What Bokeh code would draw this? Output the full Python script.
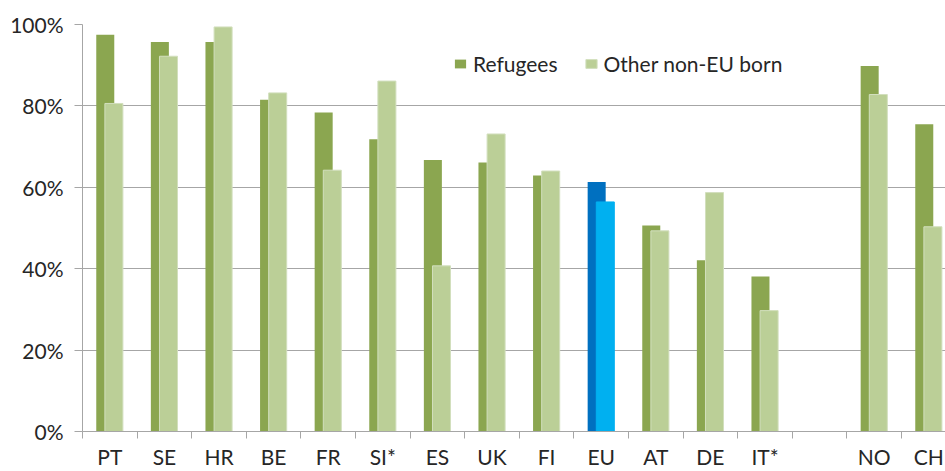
import numpy as np
from bokeh.plotting import figure
from bokeh.models import (ColumnDataSource, FixedTicker, PrintfTickFormatter,
                          Legend, LegendItem, Range1d)
from bokeh.embed import file_html
from bokeh.resources import INLINE

categories = ["PT", "SE", "HR", "BE", "FR", "SI*", "ES", "UK", "FI", "EU",
              "AT", "DE", "IT*", "", "NO", "CH"]
refugees = [97.5, 95.7, 95.7, 81.5, 78.4, 71.8, 66.7, 66.1, 62.9, 61.3,
            50.6, 42.1, 38.1, None, 89.8, 75.5]
other_non_eu = [80.6, 92.2, 99.4, 83.2, 64.2, 86.1, 40.7, 73.1, 64.0, 56.4,
                49.3, 58.7, 29.7, None, 82.8, 50.3]
y_ticks = [0, 20, 40, 60, 80, 100]

DARK_GREEN = "#8BA650"
LIGHT_GREEN = "#BBCF97"
DARK_BLUE = "#0070C0"
LIGHT_BLUE = "#00B0F0"
FONT = "Lato"

idx = np.arange(len(categories), dtype=float)
ref_vals = np.array([np.nan if v is None else v for v in refugees])
oth_vals = np.array([np.nan if v is None else v for v in other_non_eu])

src_ref = ColumnDataSource(dict(
    x=idx - 0.083, top=ref_vals,
    color=[DARK_BLUE if c == "EU" else DARK_GREEN for c in categories]))
src_oth = ColumnDataSource(dict(
    x=idx + 0.075, top=oth_vals,
    color=[LIGHT_BLUE if c == "EU" else LIGHT_GREEN for c in categories],
    line=[LIGHT_BLUE if c == "EU" else "#D2DFBD" for c in categories]))

W, H = 945, 471
LEFT, TOP, BOTTOM = 82, 24, 39
px_per_cat = 54.6
x_end = -0.5 + (W - LEFT) / px_per_cat

p = figure(width=W, height=H, output_backend="svg", toolbar_location=None,
           x_range=Range1d(-0.5, x_end), y_range=Range1d(0, 100))
p.min_border_left = LEFT
p.min_border_top = TOP
p.min_border_bottom = BOTTOM
p.min_border_right = 0
p.outline_line_color = None
p.background_fill_color = "white"
p.border_fill_color = "white"

r1 = p.vbar(x="x", top="top", bottom=0, width=0.33, source=src_ref,
            fill_color="color", line_color=None)
r2 = p.vbar(x="x", top="top", bottom=0, width=0.33, source=src_oth,
            fill_color="color", line_color="line", line_width=1)

# x axis
p.xaxis.ticker = FixedTicker(ticks=list(range(len(categories))),
                             minor_ticks=[i - 0.5 for i in range(len(categories) + 1)])
p.xaxis.major_label_overrides = {i: c for i, c in enumerate(categories)}
p.xaxis.major_tick_line_color = None
p.xaxis.minor_tick_line_color = "#A6A6A6"
p.xaxis.minor_tick_out = 7
p.xaxis.minor_tick_in = 0
p.xaxis.axis_line_color = "#A6A6A6"
p.xaxis.major_label_text_font = FONT
p.xaxis.major_label_text_font_size = "21px"
p.xaxis.major_label_text_color = "#262626"
p.xaxis.major_label_standoff = 5
p.xgrid.visible = False

# y axis
p.yaxis.ticker = FixedTicker(ticks=y_ticks)
p.yaxis.formatter = PrintfTickFormatter(format="%d%%")
p.yaxis.minor_tick_line_color = None
p.yaxis.major_tick_line_color = "#A6A6A6"
p.yaxis.major_tick_out = 8
p.yaxis.major_tick_in = 0
p.yaxis.axis_line_color = "#A6A6A6"
p.yaxis.major_label_text_font = FONT
p.yaxis.major_label_text_font_size = "21px"
p.yaxis.major_label_text_color = "#262626"
p.yaxis.major_label_standoff = 11
p.ygrid.grid_line_color = "#A6A6A6"
p.ygrid.grid_line_width = 1

legend = Legend(items=[LegendItem(label="Refugees", renderers=[r1], index=0),
                       LegendItem(label="Other non-EU born", renderers=[r2], index=0)],
                orientation="horizontal", location=(371, 355),
                padding=0, margin=0, spacing=26, label_standoff=6,
                glyph_width=14, glyph_height=11,
                label_text_font=FONT, label_text_font_size="21px",
                label_text_color="#262626",
                border_line_color=None, background_fill_alpha=0)
p.add_layout(legend)

open("out.html", "w").write(file_html(p, INLINE))
